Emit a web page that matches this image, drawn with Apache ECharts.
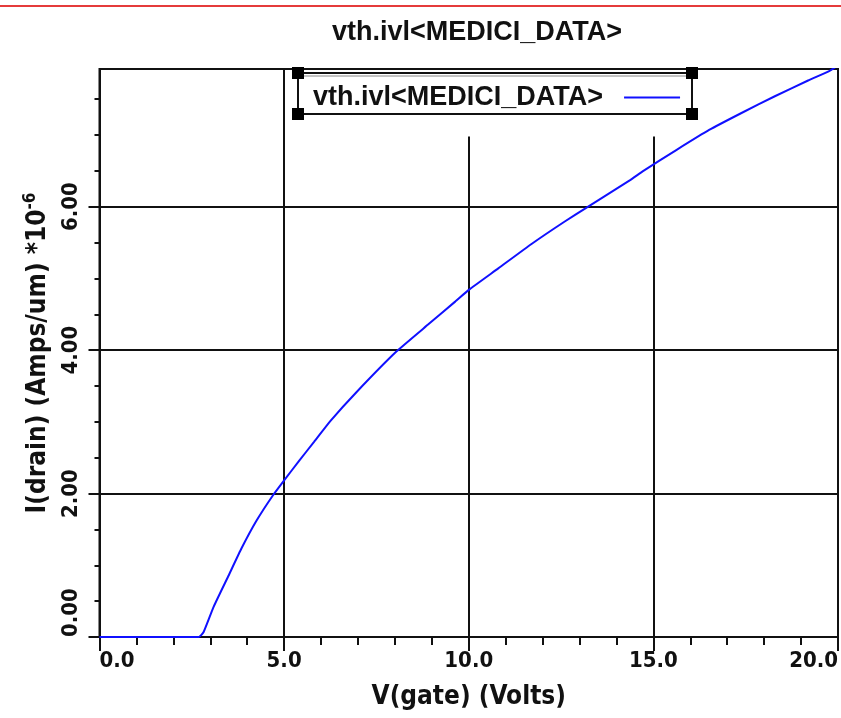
<!DOCTYPE html>
<html>
<head>
<meta charset="utf-8">
<script src="https://cdn.jsdelivr.net/npm/echarts@6/dist/echarts.min.js"></script>
<style>
  html, body { margin: 0; padding: 0; background: #ffffff; }
  #chart { width: 841px; height: 718px; }
</style>
</head>
<body>
<div id="chart"></div>
<script>
// ---- data ----
const chartTitle = 'vth.ivl<MEDICI_DATA>';
const seriesName = 'vth.ivl<MEDICI_DATA>';
const xAxisTitle = 'V(gate) (Volts)';
const yAxisTitle = 'I(drain) (Amps/um) *10';
const yAxisExponent = '-6';

// gate voltage (V)
const vGate = [0, 1, 2, 2.69, 2.82, 3.09, 3.49, 3.85, 4.25, 4.69, 5.01, 5.41, 5.81, 6.25, 6.97,
  8.04, 8.93, 9.64, 10.0, 10.80, 11.70, 12.59, 13.17, 14.37, 14.73, 15.62, 16.51, 17.40,
  18.29, 19.19, 19.76, 20.0];
// drain current (x1e-6 A/um)
const iDrain = [0, 0, 0, 0, 0.07, 0.42, 0.85, 1.24, 1.62, 1.97, 2.19, 2.46, 2.72, 3.01, 3.42,
  3.98, 4.37, 4.68, 4.84, 5.14, 5.48, 5.79, 5.98, 6.37, 6.50, 6.79, 7.07, 7.31,
  7.54, 7.76, 7.89, 7.97];

const xMin = 0, xMax = 20, xStep = 5;
const yMin = 0, yMax = 7.92, yStep = 2;
const yLabelValues = [0, 2, 4, 6];
const yMinorValues = [0.5, 1, 1.5, 2.5, 3, 3.5, 4.5, 5, 5.5, 6.5, 7, 7.5];
// vertical grid lines: x value and the height (y value) they reach
const xGridValues = [5, 10, 15, 20];
const xGridTops = [7.92, 6.98, 6.98, 7.92];

// ---- chart ----
const COND = '"DejaVu Sans Condensed", "DejaVu Sans", sans-serif';
const WIDE = '"Liberation Sans", Arial, sans-serif';
const INK = '#111111';

const points = vGate.map((v, i) => [v, iDrain[i]]);
const gridMarks = xGridValues.map((v, i) => [
  { coord: [v, yMin] }, { coord: [v, xGridTops[i]] }
]);

const chart = echarts.init(document.getElementById('chart'), null, { renderer: 'canvas' });
chart.setOption({
  animation: false,
  backgroundColor: '#ffffff',
  title: {
    text: chartTitle,
    left: 327,
    top: 14,
    textStyle: { fontFamily: WIDE, fontWeight: 'bold', fontSize: 27, color: INK }
  },
  legend: {
    data: [seriesName],
    left: 308,
    top: 79,
    align: 'right',
    icon: 'rect',
    selectedMode: false,
    itemWidth: 56,
    itemHeight: 2,
    z: 6,
    textStyle: { fontFamily: WIDE, fontWeight: 'bold', fontSize: 27, color: INK, padding: [0, 16, 0, 0] }
  },
  grid: {
    left: 99.5, right: -6, top: 69, bottom: 81,
    show: true, borderColor: INK, borderWidth: 2, backgroundColor: 'transparent'
  },
  xAxis: {
    type: 'value', min: xMin, max: xMax, interval: xStep,
    name: xAxisTitle, nameLocation: 'middle', nameGap: 47,
    nameTextStyle: { fontFamily: COND, fontWeight: 'bold', fontSize: 26, color: INK },
    axisLine: { lineStyle: { color: INK, width: 2 } },
    axisTick: { length: 14, lineStyle: { color: INK, width: 2 } },
    minorTick: { show: true, splitNumber: 5, length: 8, lineStyle: { color: INK, width: 2 } },
    splitLine: { show: false },
    axisLabel: {
      margin: 13, color: INK, fontFamily: COND, fontWeight: 'bold', fontSize: 22,
      alignMinLabel: 'left', alignMaxLabel: 'right',
      formatter: v => v.toFixed(1)
    }
  },
  yAxis: [{
    type: 'value', min: yMin, max: yMax, interval: yStep, position: 'left',
    name: yAxisTitle + '{sup|' + yAxisExponent + '}',
    nameLocation: 'middle', nameRotate: 90, nameGap: 46,
    nameTextStyle: {
      fontFamily: COND, fontWeight: 'bold', fontSize: 26, color: INK,
      rich: { sup: { fontFamily: COND, fontWeight: 'bold', fontSize: 17, color: INK, verticalAlign: 'top', padding: [0, 0, 14, 0] } }
    },
    axisLine: { lineStyle: { color: INK, width: 2 } },
    axisTick: { length: 11, customValues: yLabelValues, lineStyle: { color: INK, width: 2 } },
    splitLine: { show: true, lineStyle: { color: INK, width: 2 } },
    axisLabel: {
      customValues: yLabelValues,
      rotate: 90, margin: 17, color: INK, fontFamily: COND, fontWeight: 'bold', fontSize: 22,
      alignMinLabel: 'left',
      formatter: v => v.toFixed(2)
    }
  }, {
    type: 'value', min: yMin, max: yMax, interval: 0.5, position: 'left',
    axisLine: { show: false },
    axisTick: { length: 5, customValues: yMinorValues, lineStyle: { color: INK, width: 2 } },
    splitLine: { show: false },
    axisLabel: { show: false }
  }],
  series: [{
    name: seriesName,
    type: 'line',
    data: points,
    xAxisIndex: 0, yAxisIndex: 0,
    showSymbol: false, symbol: 'none',
    smooth: 0.15,
    lineStyle: { color: '#1010ff', width: 2 },
    itemStyle: { color: '#1010ff' },
    z: 3,
    markLine: {
      silent: true, symbol: 'none', label: { show: false },
      lineStyle: { color: INK, width: 2, type: 'solid' },
      data: gridMarks, z: 1
    }
  }],
  graphic: [
    { type: 'line', shape: { x1: 0, y1: 6, x2: 841, y2: 6 }, style: { stroke: '#e53b3b', lineWidth: 2 }, z: 10 },
    { type: 'rect', shape: { x: 298, y: 73, width: 394, height: 41 }, style: { fill: '#ffffff', stroke: INK, lineWidth: 2 }, z: 4 },
    { type: 'line', shape: { x1: 298, y1: 76, x2: 692, y2: 76 }, style: { stroke: '#888888', lineWidth: 1 }, z: 4 },
    { type: 'rect', shape: { x: 292, y: 67, width: 12, height: 12 }, style: { fill: '#000000' }, z: 7 },
    { type: 'rect', shape: { x: 686, y: 67, width: 12, height: 12 }, style: { fill: '#000000' }, z: 7 },
    { type: 'rect', shape: { x: 292, y: 108, width: 12, height: 12 }, style: { fill: '#000000' }, z: 7 },
    { type: 'rect', shape: { x: 686, y: 108, width: 12, height: 12 }, style: { fill: '#000000' }, z: 7 }
  ]
});
</script>
</body>
</html>
